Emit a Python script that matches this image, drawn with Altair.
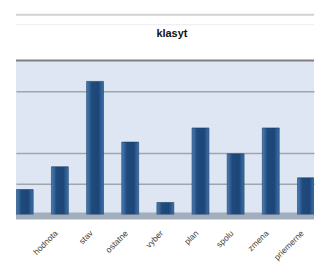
import json
import altair as alt
import pandas as pd

# ---- data ----
categories = ["prvy", "hodnota", "stav", "ostatne", "vyber", "plan", "spolu", "zmena", "priemerne"]
positions = [1, 2, 3, 4, 5, 6, 7, 8, 9]
values = [0.81, 1.55, 4.32, 2.35, 0.39, 2.81, 1.97, 2.81, 1.19]
grid_values = [1, 2, 4]
title_text = "klasyt"

df = pd.DataFrame({"pos": positions, "cat": categories, "value": values})
one = pd.DataFrame({"a": [0]})

W, H = 300, 155
FONT = "Liberation Sans"

x_scale = alt.Scale(domain=[0.891, 9.088], nice=False, zero=False)
y_scale = alt.Scale(domain=[0, 5], nice=False)
label_expr = json.dumps(categories) + "[datum.value - 1]"

bar_fill = alt.Gradient(
    gradient="linear",
    stops=[
        alt.GradientStop(color="#4a7fb8", offset=0),
        alt.GradientStop(color="#1f4a7c", offset=0.3),
        alt.GradientStop(color="#1c4677", offset=0.7),
        alt.GradientStop(color="#3d72ab", offset=1),
    ],
    x1=0, x2=1, y1=0, y2=0,
)

floor = alt.Chart(one).mark_rect(color="#a3aebd").encode(
    x=alt.value(0), x2=alt.value(W), y=alt.value(H - 2), y2=alt.value(H + 5)
)

bars = alt.Chart(df).mark_bar(size=17, clip=True, color=bar_fill,
                              stroke="#1a3c62", strokeWidth=0.6).encode(
    x=alt.X("pos:Q", scale=x_scale,
            axis=alt.Axis(values=positions[1:], labelExpr=label_expr, labelAngle=-45,
                          labelFontSize=8.5, labelColor="#444444", labelFont=FONT,
                          labelPadding=14, labelOffset=-7,
                          grid=False, ticks=False, domain=False, title=None)),
    y=alt.Y("value:Q", scale=y_scale,
            axis=alt.Axis(values=grid_values, labels=False, ticks=False, domain=False,
                          grid=True, gridColor="#9ea6b0", gridWidth=1.5, title=None)),
)

top_rule = alt.Chart(one).mark_rule(color="#7f7f7f", strokeWidth=2).encode(
    x=alt.value(0), x2=alt.value(W), y=alt.value(0)
)
frame_rule = alt.Chart(one).mark_rule(color="#d2d2d2", strokeWidth=2).encode(
    x=alt.value(0), x2=alt.value(W), y=alt.value(-46)
)
frame_rule2 = alt.Chart(one).mark_rule(color="#ececec", strokeWidth=1).encode(
    x=alt.value(0), x2=alt.value(W), y=alt.value(-36)
)
title = alt.Chart(one).mark_text(text=title_text, fontSize=11, fontWeight="bold",
                                 color="#111111", font=FONT, baseline="middle",
                                 align="center").encode(
    x=alt.value(W / 2 + 7), y=alt.value(-27)
)

chart = alt.layer(floor, bars, top_rule, frame_rule, frame_rule2, title).properties(
    width=W, height=H,
    padding={"left": 7, "top": 5, "right": 0, "bottom": 0},
).configure_view(fill="#dde6f2", strokeWidth=0)

chart.save("out.html", embed_options={"renderer": "svg", "actions": False})
